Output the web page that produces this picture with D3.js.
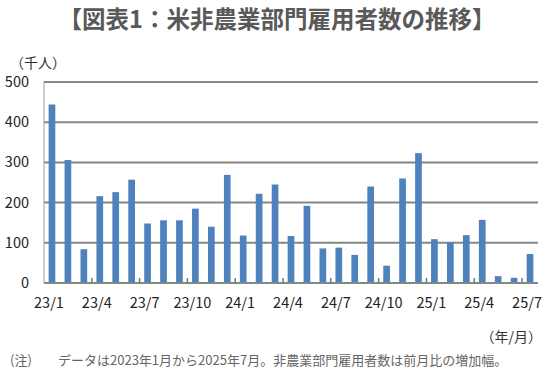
<!DOCTYPE html>
<html>
<head>
<meta charset="utf-8">
<script src="https://cdn.jsdelivr.net/npm/d3@7"></script>
<style>
  body { margin: 0; background: #fff; }
  svg { display: block; font-family: "Noto Sans CJK JP", "Noto Sans", sans-serif; }
</style>
</head>
<body>
<div id="chart"></div>
<script>
// months 2023/1 .. 2025/7
const months = [
  "23/1","23/2","23/3","23/4","23/5","23/6","23/7","23/8","23/9","23/10","23/11","23/12",
  "24/1","24/2","24/3","24/4","24/5","24/6","24/7","24/8","24/9","24/10","24/11","24/12",
  "25/1","25/2","25/3","25/4","25/5","25/6","25/7"
];
// nonfarm payroll change, thousands
const payrolls = [
  444, 306, 84, 216, 226, 257, 148, 156, 156, 185, 140, 269,
  118, 222, 245, 117, 192, 86, 88, 70, 240, 43, 260, 323,
  109, 101, 119, 157, 17, 13, 72
];
const yTicks = [0, 100, 200, 300, 400, 500];
const labelMonths = ["23/1","23/4","23/7","23/10","24/1","24/4","24/7","24/10","25/1","25/4","25/7"];

const width = 550, height = 377;
const margin = { top: 82, right: 12, bottom: 94, left: 44 };

const svg = d3.select("#chart").append("svg")
  .attr("width", width)
  .attr("height", height);

const x = d3.scaleBand()
  .domain(months)
  .range([margin.left, width - margin.right])
  .paddingInner(0.58)
  .paddingOuter(0.29);

const y = d3.scaleLinear()
  .domain([0, 500])
  .range([height - margin.bottom, margin.top]);

// title
svg.append("text")
  .attr("x", 277)
  .attr("y", 28)
  .attr("text-anchor", "middle")
  .attr("font-size", 23.5)
  .attr("font-weight", "bold")
  .attr("fill", "#595959")
  .text("【図表1：米非農業部門雇用者数の推移】");

// unit
svg.append("text")
  .attr("x", 10)
  .attr("y", 68)
  .attr("font-size", 14)
  .attr("fill", "#333")
  .text("（千人）");

// gridlines
svg.append("g")
  .selectAll("line")
  .data(yTicks.filter(d => d > 0))
  .join("line")
  .attr("x1", margin.left)
  .attr("x2", width - margin.right)
  .attr("y1", d => y(d))
  .attr("y2", d => y(d))
  .attr("stroke", "#868686")
  .attr("stroke-width", 2);

// left axis line
svg.append("line")
  .attr("x1", margin.left)
  .attr("x2", margin.left)
  .attr("y1", y(500))
  .attr("y2", y(0))
  .attr("stroke", "#9a9a9a")
  .attr("stroke-width", 1);

// y labels
svg.append("g")
  .selectAll("text")
  .data(yTicks)
  .join("text")
  .attr("x", 29)
  .attr("y", d => y(d) + 5)
  .attr("text-anchor", "end")
  .attr("font-size", 14.5)
  .attr("fill", "#222")
  .text(d => d);

// bars
svg.append("g")
  .selectAll("rect")
  .data(payrolls)
  .join("rect")
  .attr("x", (d, i) => x(months[i]))
  .attr("y", d => y(d))
  .attr("width", x.bandwidth())
  .attr("height", d => y(0) - y(d))
  .attr("fill", "#4f81bd");

// x axis line
svg.append("line")
  .attr("x1", margin.left)
  .attr("x2", width - margin.right)
  .attr("y1", y(0))
  .attr("y2", y(0))
  .attr("stroke", "#868686")
  .attr("stroke-width", 2);

// inside tick marks between every third month
const step = x.step();
svg.append("g")
  .selectAll("line")
  .data(d3.range(3, months.length, 3))
  .join("line")
  .attr("x1", i => margin.left + i * step)
  .attr("x2", i => margin.left + i * step)
  .attr("y1", y(0))
  .attr("y2", y(0) - 5)
  .attr("stroke", "#777")
  .attr("stroke-width", 1.5);

// x labels
svg.append("g")
  .selectAll("text")
  .data(labelMonths)
  .join("text")
  .attr("x", d => x(d) + x.bandwidth() / 2 - 3)
  .attr("y", 308)
  .attr("text-anchor", "middle")
  .attr("font-size", 14.5)
  .attr("fill", "#222")
  .text(d => d);

// x unit
svg.append("text")
  .attr("x", 542)
  .attr("y", 342)
  .attr("text-anchor", "end")
  .attr("font-size", 14)
  .attr("fill", "#333")
  .text("（年/月）");

// note
svg.append("text")
  .attr("x", 10)
  .attr("y", 365)
  .attr("font-size", 13)
  .attr("fill", "#666")
  .text("(注)");
svg.append("text")
  .attr("x", 58)
  .attr("y", 365)
  .attr("font-size", 13)
  .attr("fill", "#666")
  .text("データは2023年1月から2025年7月。非農業部門雇用者数は前月比の増加幅。");
</script>
</body>
</html>
